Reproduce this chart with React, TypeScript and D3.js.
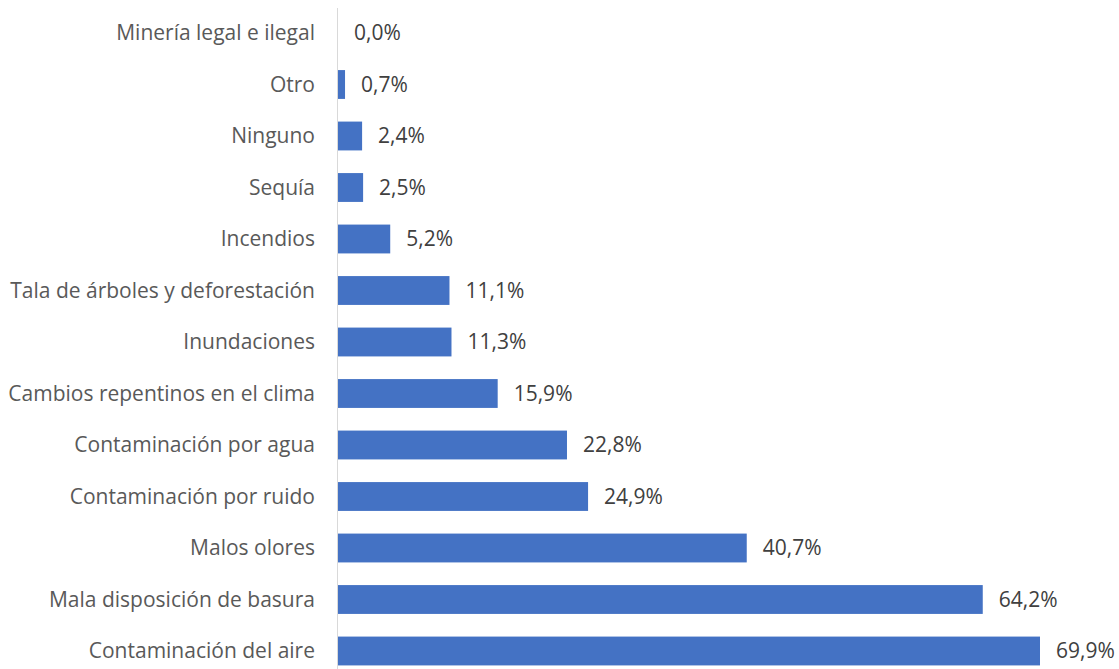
import * as React from 'react';
import * as d3 from 'd3';

const categories: string[] = [
    'Minería legal e ilegal',
    'Otro',
    'Ninguno',
    'Sequía',
    'Incendios',
    'Tala de árboles y deforestación',
    'Inundaciones',
    'Cambios repentinos en el clima',
    'Contaminación por agua',
    'Contaminación por ruido',
    'Malos olores',
    'Mala disposición de basura',
    'Contaminación del aire',
];

const values: number[] = [0.0, 0.7, 2.4, 2.5, 5.2, 11.1, 11.3, 15.9, 22.8, 24.9, 40.7, 64.2, 69.9];

const width = 1119;
const height = 669;
const axisX = 338;
const font = 'Open Sans, sans-serif';

export default function App() {
    const x = d3.scaleLinear().domain([0, 69.9]).range([axisX, 1040]);
    const y = d3.scaleBand<string>()
        .domain(categories)
        .range([7.25, 7.25 + 51.5 * categories.length])
        .paddingInner(0.44)
        .paddingOuter(0.22);
    const fmt = (v: number) => d3.format('.1f')(v).replace('.', ',') + '%';

    return (
        <svg width={width} height={height}
            style={{ position: 'absolute', left: 0, top: 0, background: '#fff' }}>
            {categories.map((c, i) => (
                <g key={c}>
                    <rect x={x(0)} y={y(c)} width={x(values[i]) - x(0)} height={y.bandwidth()} fill="#4472C4" />
                    <text x={315} y={(y(c) as number) + y.bandwidth() / 2} dy="0.35em"
                        textAnchor="end" fontFamily={font} fontSize={21} fill="#595959">{c}</text>
                    <text x={x(values[i]) + 16} y={(y(c) as number) + y.bandwidth() / 2} dy="0.35em"
                        fontFamily={font} fontSize={21} fill="#404040">{fmt(values[i])}</text>
                </g>
            ))}
            <line x1={axisX - 0.5} x2={axisX - 0.5} y1={8} y2={height} stroke="#d9d9d9" strokeWidth={1} />
        </svg>
    );
}
